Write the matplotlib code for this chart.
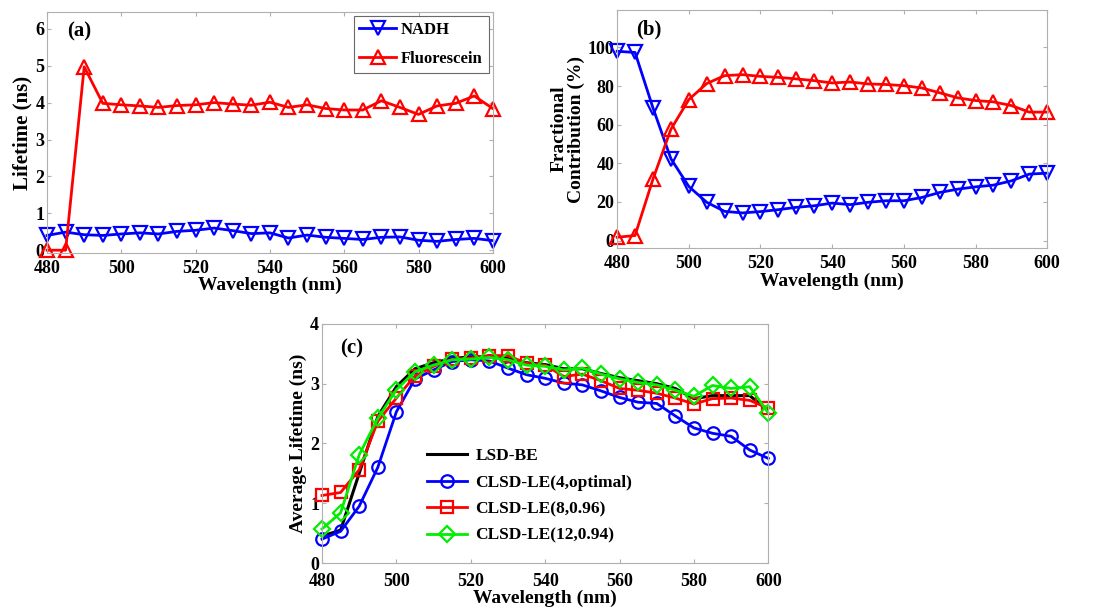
import matplotlib
matplotlib.use("Agg")
import matplotlib.pyplot as plt
import numpy as np

plt.rcParams['font.family'] = ['Liberation Serif', 'DejaVu Serif']
plt.rcParams['font.weight'] = 'bold'
plt.rcParams['axes.labelweight'] = 'bold'

wavelength = [480, 485, 490, 495, 500, 505, 510, 515, 520, 525, 530, 535, 540,
              545, 550, 555, 560, 565, 570, 575, 580, 585, 590, 595, 600]

# Panel (a): lifetimes (ns)
nadh_lifetime = [0.40, 0.49, 0.42, 0.40, 0.44, 0.47, 0.44, 0.51, 0.54, 0.60, 0.53, 0.45, 0.47,
                 0.33, 0.41, 0.35, 0.32, 0.29, 0.35, 0.36, 0.27, 0.24, 0.29, 0.32, 0.26]
fluo_lifetime = [0.0, 0.0, 4.97, 3.98, 3.94, 3.91, 3.87, 3.92, 3.94, 4.00, 3.96, 3.93, 4.01,
                 3.87, 3.94, 3.84, 3.80, 3.80, 4.05, 3.87, 3.68, 3.91, 3.98, 4.18, 3.84]

# Panel (b): fractional contribution (%)
nadh_frac = [98.0, 97.4, 68.7, 42.4, 28.0, 19.8, 15.1, 14.3, 15.0, 16.0, 17.2, 18.0, 19.4,
             18.6, 19.8, 20.6, 20.6, 22.3, 24.9, 26.6, 27.8, 28.7, 30.9, 34.4, 34.9]
fluo_frac = [1.7, 2.6, 31.8, 57.6, 73.0, 81.3, 85.4, 85.9, 85.0, 84.5, 83.7, 82.8, 81.6,
             82.1, 81.1, 80.8, 80.2, 79.0, 76.5, 73.9, 72.5, 71.8, 69.9, 66.5, 66.5]

# Panel (c): average lifetime (ns)
lsd_be = [0.45, 0.55, 1.50, 2.45, 2.95, 3.25, 3.35, 3.42, 3.45, 3.45, 3.42, 3.35, 3.32,
          3.25, 3.25, 3.17, 3.10, 3.05, 3.00, 2.92, 2.75, 2.80, 2.80, 2.80, 2.55]
clsd_4 = [0.40, 0.53, 0.95, 1.60, 2.53, 3.08, 3.23, 3.37, 3.40, 3.38, 3.26, 3.15, 3.09,
          3.01, 2.98, 2.88, 2.77, 2.69, 2.67, 2.46, 2.26, 2.17, 2.12, 1.89, 1.75]
clsd_8 = [1.13, 1.18, 1.56, 2.37, 2.76, 3.13, 3.29, 3.41, 3.43, 3.47, 3.47, 3.34, 3.31,
          3.12, 3.16, 3.05, 2.92, 2.89, 2.84, 2.76, 2.66, 2.75, 2.76, 2.72, 2.59]
clsd_12 = [0.57, 0.84, 1.81, 2.42, 2.90, 3.20, 3.31, 3.40, 3.41, 3.44, 3.40, 3.31, 3.29,
           3.23, 3.26, 3.16, 3.08, 3.02, 2.98, 2.89, 2.79, 2.97, 2.92, 2.95, 2.51]

xticks = [480, 500, 520, 540, 560, 580, 600]

fig = plt.figure(figsize=(11.2, 6.1), dpi=100)

ax_a = fig.add_axes([0.042, 0.585, 0.398, 0.395])
ax_b = fig.add_axes([0.551, 0.593, 0.384, 0.391])
ax_c = fig.add_axes([0.2875, 0.077, 0.3985, 0.392])

def style(ax, xpad=5):
    for s in ax.spines.values():
        s.set_color('#b0b0b0')
        s.set_linewidth(0.8)
    ax.tick_params(direction='in', length=3, color='#b0b0b0', top=True, right=True,
                   labelsize=13)
    ax.tick_params(axis='x', pad=xpad)
    ax.tick_params(axis='y', pad=2)
    for lbl in ax.get_xticklabels() + ax.get_yticklabels():
        lbl.set_fontweight('bold')
    ax.set_xlim(480, 600)
    ax.set_xticks(xticks)
    ax.set_xlabel('Wavelength (nm)', fontsize=14, fontweight='bold', labelpad=0)

mk = dict(markersize=10, markerfacecolor='none', markeredgewidth=1.6, linewidth=2, clip_on=False)

# (a)
ax_a.plot(wavelength, nadh_lifetime, color='#0000ff', marker='v', label='NADH', **mk)
ax_a.plot(wavelength, fluo_lifetime, color='#ff0000', marker='^', label='Fluorescein', **mk)
ax_a.set_ylim(-0.08, 6.45)
ax_a.set_yticks([0, 1, 2, 3, 4, 5, 6])
ax_a.set_ylabel('Lifetime (ns)', fontsize=15, fontweight='bold', labelpad=2)
style(ax_a)
leg = ax_a.legend(loc='upper right', prop={'weight': 'bold', 'size': 12}, frameon=True,
                  fancybox=False, edgecolor='#444444', handlelength=2.2, borderpad=0.35,
                  labelspacing=0.75, handletextpad=0.3, borderaxespad=0.25)
leg.get_frame().set_linewidth(0.8)
ax_a.text(0.045, 0.96, '(a)', transform=ax_a.transAxes, fontsize=15, fontweight='bold',
          va='top', ha='left')

# (b)
ax_b.plot(wavelength, nadh_frac, color='#0000ff', marker='v', **mk)
ax_b.plot(wavelength, fluo_frac, color='#ff0000', marker='^', **mk)
ax_b.set_ylim(-4, 119.5)
ax_b.set_yticks([0, 20, 40, 60, 80, 100])
ax_b.set_ylabel('Fractional\nContribution (%)', fontsize=14, fontweight='bold', labelpad=2,
                linespacing=1.0)
style(ax_b)
ax_b.text(0.045, 0.96, '(b)', transform=ax_b.transAxes, fontsize=15, fontweight='bold',
          va='top', ha='left')

# (c)
mk_c = dict(markersize=9, markerfacecolor='none', markeredgewidth=1.6, linewidth=2, clip_on=False)
ax_c.plot(wavelength, lsd_be, color='black', linewidth=2.2, label='LSD-BE')
ax_c.plot(wavelength, clsd_4, color='#0000ff', marker='o', label='CLSD-LE(4,optimal)', **mk_c)
ax_c.plot(wavelength, clsd_8, color='#ff0000', marker='s', label='CLSD-LE(8,0.96)', **mk_c)
ax_c.plot(wavelength, clsd_12, color='#00ee00', marker='D', label='CLSD-LE(12,0.94)',
          markersize=8, markerfacecolor='none', markeredgewidth=1.6, linewidth=2, clip_on=False)
ax_c.set_ylim(0, 4)
ax_c.set_yticks([0, 1, 2, 3, 4])
ax_c.set_ylabel('Average Lifetime (ns)', fontsize=14, fontweight='bold', labelpad=2)
style(ax_c, xpad=7)
ax_c.legend(loc='lower left', bbox_to_anchor=(0.2, 0.015), frameon=False,
            prop={'weight': 'bold', 'size': 12.5}, handlelength=2.3, labelspacing=0.6,
            handletextpad=0.5)
ax_c.text(0.04, 0.94, '(c)', transform=ax_c.transAxes, fontsize=15, fontweight='bold',
          va='top', ha='left')

fig.savefig('out.png', dpi=100)
